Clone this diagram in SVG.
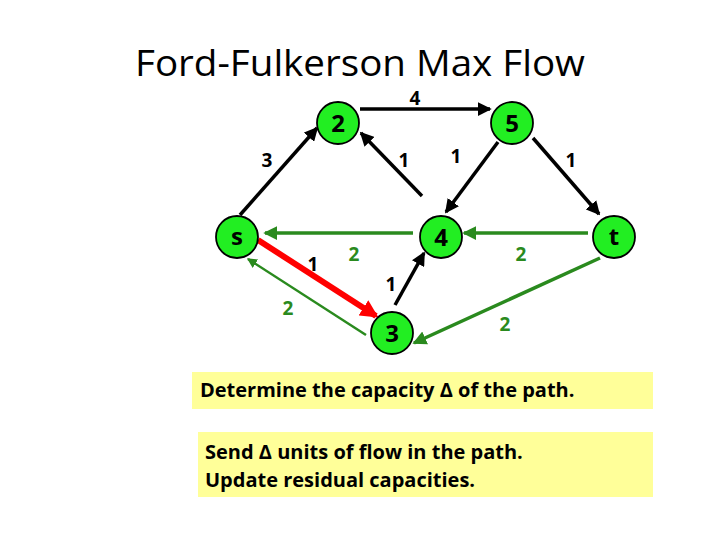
<svg xmlns="http://www.w3.org/2000/svg" width="720" height="540" viewBox="0 0 720 540">
<style>
.node{fill:#22ee22;stroke:#000;stroke-width:1.8}
.nl{font-family:"Open Sans","Liberation Sans",sans-serif;font-weight:bold;font-size:24px;text-anchor:middle;fill:#000}
.el{font-family:"Open Sans","Liberation Sans",sans-serif;font-weight:bold;font-size:19px;text-anchor:middle}
.blk{stroke:#000;stroke-width:3.5;fill:none}
.grn{stroke:#2a8a1e;stroke-width:3.5;fill:none}
.box{fill:#ffff99}
.bt{font-family:"Open Sans","Liberation Sans",sans-serif;font-weight:bold;font-size:20px;fill:#000}
</style>
<defs>
<marker id="ab" markerWidth="4" markerHeight="4" refX="3.5" refY="2" orient="auto" markerUnits="strokeWidth"><path d="M0,0 L4,2 L0,4 z" fill="#000"/></marker>
<marker id="ag" markerWidth="4" markerHeight="4" refX="3.5" refY="2" orient="auto" markerUnits="strokeWidth"><path d="M0,0 L4,2 L0,4 z" fill="#2a8a1e"/></marker>
<marker id="ar" markerWidth="3" markerHeight="3" refX="2.5" refY="1.5" orient="auto" markerUnits="strokeWidth"><path d="M0,0 L3,1.5 L0,3 z" fill="#ff0000"/></marker>
</defs>
<rect width="720" height="540" fill="#fff"/>
<text x="360" y="76" font-family="Open Sans, Liberation Sans, sans-serif" font-size="36" text-anchor="middle" textLength="450" lengthAdjust="spacingAndGlyphs">Ford-Fulkerson Max Flow</text>
<g id="connectors">
<line class="blk" x1="360" y1="109" x2="490" y2="109" marker-end="url(#ab)"/>
<text class="el" x="415" y="105" font-size="18">4</text>
<line class="blk" x1="240" y1="215" x2="317" y2="128" marker-end="url(#ab)"/>
<text class="el" x="267" y="167">3</text>
<line class="blk" x1="422" y1="196" x2="361" y2="133" marker-end="url(#ab)"/>
<text class="el" x="404" y="167">1</text>
<line class="blk" x1="498" y1="142" x2="446" y2="212" marker-end="url(#ab)"/>
<text class="el" x="456" y="163">1</text>
<line class="blk" x1="533" y1="138" x2="599" y2="214" marker-end="url(#ab)"/>
<text class="el" x="571" y="167">1</text>
<line class="grn" x1="588" y1="233" x2="464" y2="233" marker-end="url(#ag)"/>
<text class="el" x="521" y="261" fill="#2a8a1e">2</text>
<line class="grn" x1="413" y1="233" x2="265" y2="233" marker-end="url(#ag)"/>
<text class="el" x="354" y="261" fill="#2a8a1e">2</text>
<line x1="258" y1="240" x2="376" y2="316" stroke="#ff0000" stroke-width="6" marker-end="url(#ar)"/>
<text class="el" x="313" y="271">1</text>
<line x1="366" y1="335" x2="248" y2="259" stroke="#2a8a1e" stroke-width="2.5" marker-end="url(#ag)"/>
<text class="el" x="288" y="315" fill="#2a8a1e">2</text>
<line class="blk" x1="395" y1="305" x2="424" y2="253" marker-end="url(#ab)"/>
<text class="el" x="391" y="291">1</text>
<line class="grn" x1="600" y1="258" x2="414" y2="343" marker-end="url(#ag)"/>
<text class="el" x="505" y="331" fill="#2a8a1e">2</text>
</g>
<g id="node-2"><circle class="node" cx="338" cy="123" r="21"/><text class="nl" x="338" y="132">2</text></g>
<g id="node-5"><circle class="node" cx="512" cy="123" r="21"/><text class="nl" x="512" y="132">5</text></g>
<g id="node-s"><circle class="node" cx="237" cy="237" r="21"/><text class="nl" x="237" y="245" font-size="21">s</text></g>
<g id="node-4"><circle class="node" cx="441" cy="237" r="21"/><text class="nl" x="441" y="246">4</text></g>
<g id="node-t"><circle class="node" cx="614" cy="237" r="21"/><text class="nl" x="614" y="245" font-size="21">t</text></g>
<g id="node-3"><circle class="node" cx="392" cy="333" r="21"/><text class="nl" x="392" y="342">3</text></g>
<g id="box1"><rect class="box" x="192" y="372" width="461" height="37"/><text class="bt" x="200" y="397">Determine the capacity Δ of the path.</text></g>
<g id="box2"><rect class="box" x="198" y="432" width="455" height="65"/><text class="bt" x="205" y="459">Send Δ units of flow in the path.</text><text class="bt" x="205" y="487">Update residual capacities.</text></g>
</svg>
